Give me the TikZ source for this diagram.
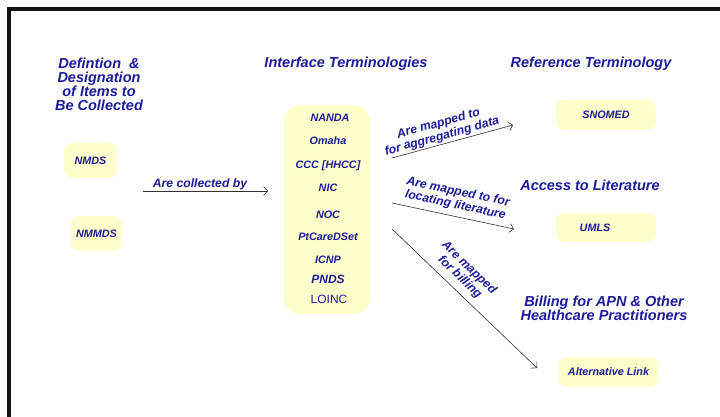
\documentclass[tikz,border=0pt]{standalone}
\usepackage{fontspec}
\setmainfont{Liberation Sans}
\usetikzlibrary{arrows.meta}
\definecolor{txtblue}{RGB}{28,28,155}
\definecolor{paleyel}{RGB}{255,255,204}
\definecolor{framek}{RGB}{20,20,20}
\definecolor{arrgray}{RGB}{50,50,50}
\begin{document}
\begin{tikzpicture}[x=1pt,y=-1pt,
  hdr/.style={font=\bfseries\itshape\fontsize{14.5}{14}\selectfont, text=txtblue, align=center, inner sep=0pt},
  item/.style={font=\bfseries\itshape\fontsize{10.8}{12}\selectfont, text=txtblue, inner sep=0pt},
  lbl/.style={font=\bfseries\itshape\fontsize{12.2}{13.2}\selectfont, text=txtblue, align=center, inner sep=0pt},
  ybox/.style={fill=paleyel, rounded corners=8pt, inner sep=0pt},
  conn/.style={draw=arrgray, line width=0.6pt, -{Straight Barb[length=4pt,width=9pt]}}
]
\useasboundingbox (0,0) rectangle (720,417);
\fill[white] (0,0) rectangle (720,417);
\fill[framek] (7,7) rectangle (720,11);
\fill[framek] (7,7) rectangle (11,417);

% headers
\node[hdr] (defh) at (99,84) {Defintion \ \&\\Designation\\of Items to\\Be Collected};
\node[hdr, anchor=base] (ifh) at (346,68) {Interface Terminologies};
\node[hdr, anchor=base] (refh) at (591,68) {Reference Terminology};
\node[hdr, anchor=base] (acch) at (590,190) {Access to Literature};
\node[hdr] (billh) at (604,308.5) {Billing for APN \& Other\\Healthcare Practitioners};

% left boxes
\node[ybox, item, minimum width=53pt, minimum height=35pt] (nmds) at (90.5,160.5) {NMDS};
\node[ybox, item, minimum width=51pt, minimum height=35pt] (nmmds) at (96.5,233.5) {NMMDS};

% big box
\node[ybox, rounded corners=16pt, minimum width=86pt, minimum height=209pt] (itbox) at (327,209.5) {};
\node[item, anchor=base] (nanda) at (330,122) {NANDA};
\node[item, anchor=base] (omaha) at (328,145) {Omaha};
\node[item, anchor=base] (ccc) at (328,168) {CCC [HHCC]};
\node[item, anchor=base] (nic) at (328,191) {NIC};
\node[item, anchor=base] (noc) at (328,218) {NOC};
\node[item, anchor=base] (ptc) at (328,240) {PtCareDSet};
\node[item, anchor=base] (icnp) at (328,263) {ICNP};
\node[item, anchor=base, font=\bfseries\itshape\fontsize{12}{12}\selectfont] (pnds) at (328,283.3) {PNDS};
\node[item, anchor=base, font=\fontsize{12}{12}\selectfont] (loinc) at (329,303.3) {LOINC};

% right boxes
\node[ybox, item, minimum width=100pt, minimum height=30pt] (snomed) at (606,115) {SNOMED};
\node[ybox, item, minimum width=100pt, minimum height=29pt] (umls) at (606,227.5) {\hspace*{-22pt}UMLS};
\node[ybox, item, minimum width=99pt, minimum height=30pt] (alt) at (608.5,372) {Alternative Link};

% connectors
\coordinate (c1s) at (143,191);
\coordinate (c1e) at (268,191);
\draw[conn] (c1s) -- (c1e) node[lbl, pos=0.456, anchor=base, yshift=4pt] {Are collected by};

\coordinate (a1s) at (392,158);
\coordinate (a1e) at (513,125);
\draw[conn] (a1s) -- (a1e) node[lbl, sloped, pos=0.43, above=1.5pt] {Are mapped to\\for aggregating data};

\coordinate (a2s) at (392,203);
\coordinate (a2e) at (514,229);
\draw[conn] (a2s) -- (a2e) node[lbl, sloped, pos=0.5, above=5pt] {Are mapped to for\\locating literature};

\coordinate (a3s) at (392,229);
\coordinate (a3e) at (537,368);
\draw[conn] (a3s) -- (a3e) node[lbl, sloped, pos=0.41, above=6pt] {Are mapped\\for billing};
\end{tikzpicture}
\end{document}
